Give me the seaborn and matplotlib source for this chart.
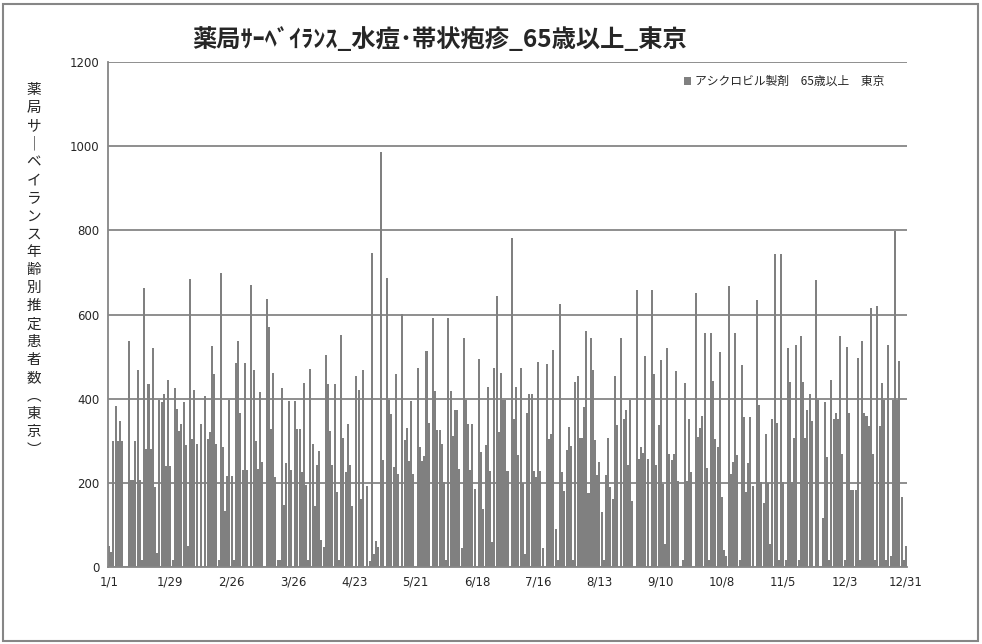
import matplotlib
matplotlib.use("Agg")
import matplotlib.pyplot as plt
from matplotlib.patches import Patch, Rectangle
import seaborn as sns
import pandas as pd

# ---- data (daily estimated patients, 1/1 .. 12/31) ----
vals_p1 = [50, 35, 300, 382, 300, 347, 300, 0, 0, 536, 206, 206, 300, 467, 206, 17, 662, 281, 434, 281,
           520, 190, 33, 396, 391, 410, 239, 444, 239, 17, 426, 376, 323, 339, 391, 289, 49, 684, 304, 421,
           292, 0, 339, 0, 406]
vals_p2 = [304, 321, 524, 458, 293, 16, 699, 285, 133, 216, 398, 216, 16, 485, 536, 366, 231, 485, 231, 0,
           670, 467, 300, 233, 415, 249, 0, 636, 570, 328, 460, 214, 16, 16, 426, 147, 247, 395, 231, 0,
           395, 328, 328, 226, 437, 194, 16]
vals_p3 = [471, 292, 144, 242, 276, 63, 48, 504, 436, 323, 242, 436, 178, 16, 551, 307, 225, 339, 242, 144,
           0, 455, 420, 162, 467, 0, 193, 14, 746, 30, 62, 48, 986, 254, 0, 686, 398, 363, 238, 458,
           222, 0, 601, 301, 330]
vals_p4 = [252, 395, 220, 0, 472, 285, 252, 263, 513, 342, 0, 591, 418, 325, 326, 293, 202, 16, 591, 418,
           311, 372, 372, 233, 44, 544, 398, 339, 231, 339, 185, 0, 494, 273, 138, 289, 428, 228, 60, 472,
           643, 320, 460, 398, 398, 227]
vals_p5 = [0, 781, 352, 428, 266, 472, 200, 32, 366, 410, 410, 228, 214, 487, 228, 46, 0, 482, 303, 317,
           515, 90, 16, 624, 225, 181, 279, 333, 287, 16, 439, 453, 306, 306, 380, 561, 176, 544, 467, 301,
           219, 249, 130, 16, 219, 306, 190, 162]
vals_p6 = [455, 338, 0, 545, 352, 372, 242, 398, 157, 0, 659, 257, 285, 271, 502, 257, 0, 659, 458, 242,
           338, 493, 198, 55, 520, 268, 255, 268, 466, 204, 0, 16, 437, 204, 352, 225, 0, 650, 309, 331,
           358, 556, 236, 16]
vals_p7 = [556, 442, 304, 284, 510, 166, 41, 25, 667, 222, 249, 556, 265, 16, 480, 357, 179, 247, 357, 193,
           0, 635, 384, 203, 151, 315, 200, 55, 352, 743, 342, 16, 743, 203, 16, 520, 439, 203, 306, 528,
           16, 548, 439, 306, 372]
vals_p8 = [412, 347, 0, 681, 398, 0, 116, 391, 261, 16, 444, 352, 366, 352, 550, 269, 16, 523, 366, 182,
           182, 182, 496, 16, 536, 366, 358, 336, 616, 269, 16, 620, 334, 437, 398, 16, 527, 25, 398, 799,
           398, 490, 166, 16, 49]

values = vals_p1 + vals_p2 + vals_p3 + vals_p4 + vals_p5 + vals_p6 + vals_p7 + vals_p8
dates = pd.date_range("2023-01-01", "2023-12-31", freq="D")
days = [f"{d.month}/{d.day}" for d in dates]

tick_step = 28
y_ticks = [0, 200, 400, 600, 800, 1000, 1200]

title = "薬局ｻｰﾍﾞｲﾗﾝｽ_水痘･帯状疱疹_65歳以上_東京"
ylabel_chars = list("薬局サ") + ["｜"] + list("ベイランス年齢別推定患者数") + ["︵", "東", "京", "︶"]
legend_label = "アシクロビル製剤　65歳以上　東京"

df = pd.DataFrame({"day": days, "value": values})

# ---- figure ----
sns.set_style("white")
jp = ["Noto Sans CJK JP", "DejaVu Sans"]
plt.rcParams["font.family"] = ["DejaVu Sans"]

GRAY = "#868686"
BAR = "#808080"

fig = plt.figure(figsize=(9.82, 6.44), dpi=100)
ax = fig.add_axes([108 / 982, (644 - 567) / 644, 799 / 982, 505 / 644])

sns.barplot(data=df, x="day", y="value", color=BAR, width=0.92, saturation=1,
            linewidth=0, ax=ax, order=days)

ax.set_ylim(0, 1200)
ax.set_xlim(-0.5, len(days) - 0.5)
ax.set_yticks(y_ticks)
ax.set_yticklabels([str(v) for v in y_ticks], fontsize=8.5)
xt = list(range(0, len(days), tick_step))
ax.set_xticks(xt)
ax.set_xticklabels([days[i] for i in xt], fontsize=8.5)
ax.tick_params(axis="both", length=0, pad=6)
ax.set_xlabel("")
ax.set_ylabel("")

ax.set_axisbelow(True)
ax.yaxis.grid(True, color=GRAY, linewidth=1.3)
ax.xaxis.grid(False)
for s in ["top", "right"]:
    ax.spines[s].set_visible(False)
for s in ["left", "bottom"]:
    ax.spines[s].set_color(GRAY)
    ax.spines[s].set_linewidth(1.3)

# title
fig.text(440 / 982, 1 - 40 / 644, title, ha="center", va="center",
         fontsize=17.5, fontweight="bold", family=jp)

# vertical stacked y-label
fig.text(34 / 982, 1 - 270 / 644, "\n".join(ylabel_chars), ha="center", va="center",
         fontsize=10.5, family=jp, linespacing=1.36)

# legend
leg = ax.legend(handles=[Patch(facecolor=BAR, edgecolor="none", label=legend_label)],
                loc="upper right", bbox_to_anchor=(0.985, 0.995), frameon=False,
                prop={"family": jp, "size": 8.5}, handlelength=0.6, handleheight=0.6,
                handletextpad=0.3)

# outer border
fig.patches.append(Rectangle((3 / 982, 3 / 644), 975 / 982, 637 / 644, transform=fig.transFigure,
                             fill=False, edgecolor=GRAY, linewidth=1.5))

fig.savefig("out.png", dpi=100, facecolor="white")
